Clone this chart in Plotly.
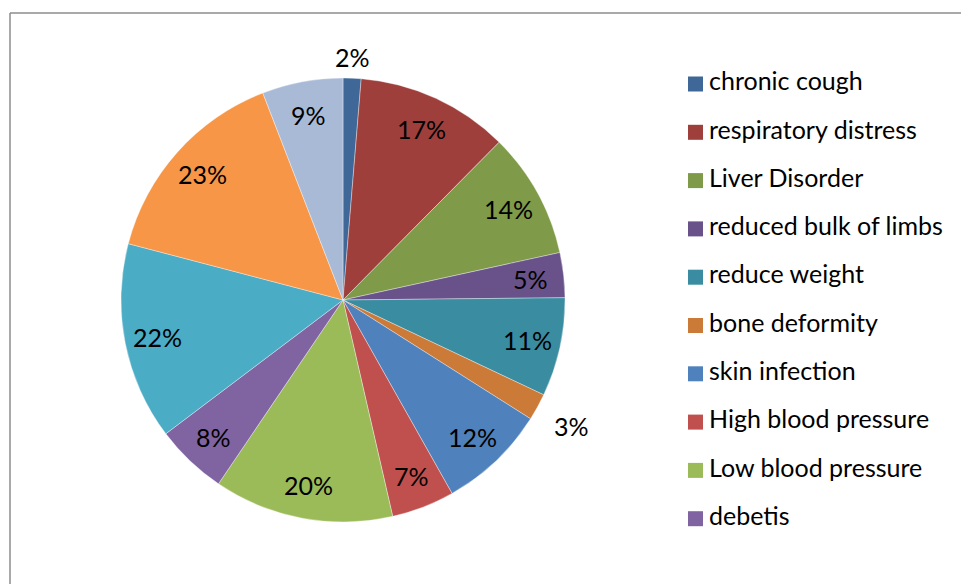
import math
import plotly.graph_objects as go

# Symptom shares (values shown as percentages on the slices)
symptoms = [
    "chronic cough", "respiratory distress", "Liver Disorder",
    "reduced bulk of limbs", "reduce weight", "bone deformity",
    "skin infection", "High blood pressure", "Low blood pressure",
    "debetis", "", "", "",
]
values = [2, 17, 14, 5, 11, 3, 12, 7, 20, 8, 22, 23, 9]
colors = [
    "#3F6797", "#9E3F3C", "#7F9A48", "#69518A", "#3A8CA0", "#CC7A37",
    "#4F81BD", "#C0504D", "#9BBB59", "#8064A2", "#4BACC6", "#F79646",
    "#A9BAD7",
]
legend_count = 10  # only the named categories appear in the key

W, H = 961, 584
FONT = "Lato"
FS = 25

# pie geometry in pixels
cx, cy, r = 343, 300, 222

fig = go.Figure()

fig.add_trace(go.Pie(
    labels=[f"{s or 'other'}_{i}" for i, s in enumerate(symptoms)],
    values=values,
    marker=dict(colors=colors, line=dict(color="rgba(255,255,255,0.6)", width=0.6)),
    sort=False,
    direction="clockwise",
    rotation=0,
    textinfo="none",
    hoverinfo="skip",
    showlegend=False,
    domain=dict(x=[(cx - r) / W, (cx + r) / W], y=[1 - (cy + r) / H, 1 - (cy - r) / H]),
))

# percentage labels positioned along each slice's mid angle
total = sum(values)
cum = 0
annotations = []
for v in values:
    theta = 2 * math.pi * (cum + v / 2) / total
    cum += v
    if v < 4:
        d = r + 20 + 22 * abs(math.sin(theta))
    else:
        d = 0.85 * r
    px = cx + d * math.sin(theta)
    py = cy - d * math.cos(theta)
    annotations.append(dict(
        x=px / W, y=1 - py / H, xref="paper", yref="paper",
        text=f"{v}%", showarrow=False,
        font=dict(family=FONT, size=FS, color="#000000"),
        xanchor="center", yanchor="middle",
    ))

# legend key drawn as square markers with labels
rows = list(range(legend_count))
fig.add_trace(go.Scatter(
    x=[0] * legend_count, y=rows,
    mode="markers+text",
    marker=dict(symbol="square", size=15, color=colors[:legend_count], line=dict(width=0)),
    text=["\u2009" + s for s in symptoms[:legend_count]],
    textposition="middle right",
    textfont=dict(family=FONT, size=FS, color="#000000"),
    cliponaxis=False,
    hoverinfo="skip",
    showlegend=False,
    xaxis="x", yaxis="y",
))

row0, step = 84, 48.3
fig.update_layout(
    width=W, height=H,
    margin=dict(l=0, r=0, t=0, b=0),
    paper_bgcolor="white", plot_bgcolor="rgba(0,0,0,0)",
    annotations=annotations,
    xaxis=dict(domain=[695.5 / W, 1], range=[0, 1], visible=False, fixedrange=True),
    yaxis=dict(domain=[0, 1], range=[(H - row0) / step, -row0 / step],
               visible=False, fixedrange=True),
    shapes=[
        dict(type="line", xref="paper", yref="paper",
             x0=10 / W, x1=1.02, y0=1 - 13 / H, y1=1 - 13 / H,
             line=dict(color="#8C8C8C", width=1.5)),
        dict(type="line", xref="paper", yref="paper",
             x0=10 / W, x1=10 / W, y0=1 - 13 / H, y1=-0.02,
             line=dict(color="#8C8C8C", width=1.5)),
    ],
)

fig.write_html("out.html")
